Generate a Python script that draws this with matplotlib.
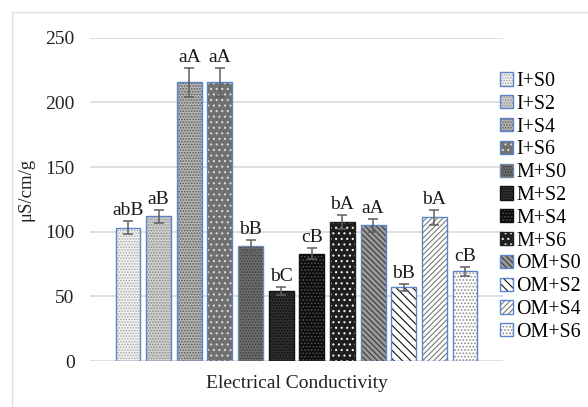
import numpy as np
import matplotlib.pyplot as plt
from matplotlib.patches import Patch, Rectangle

plt.rcParams['font.family'] = ['Liberation Serif', 'DejaVu Serif']
plt.rcParams['hatch.linewidth'] = 0.8

# podaci
labels = ['I+S0', 'I+S2', 'I+S4', 'I+S6', 'M+S0', 'M+S2', 'M+S4', 'M+S6',
          'OM+S0', 'OM+S2', 'OM+S4', 'OM+S6']
values = [103, 112, 215.5, 215.5, 89, 54, 83, 107.5, 105, 57, 111, 69.5]
errors = [5, 5, 11, 11, 4.5, 3, 4.5, 5.5, 5, 2.8, 6, 3.5]
letters = ['abB', 'aB', 'aA', 'aA', 'bB', 'bC', 'cB', 'bA', 'aA', 'bB', 'bA', 'cB']

blue = '#5b85c8'
# (boja pozadine, boja sare, sara, boja ivice)
styles = [
    ('#f2f2f2', '#a6a6a6', '......', blue),
    ('#d0d0d0', '#8c8c8c', '......', blue),
    ('#b5b5b5', '#5a5a5a', '......', blue),
    ('#707070', '#d9d9d9', '...', blue),
    ('#6e6e6e', '#3c3c3c', '......', '#6f86ad'),
    ('#303030', '#0a0a0a', '......', '#111111'),
    ('#0c0c0c', '#505050', '.....', '#111111'),
    ('#1e1e1e', '#f0f0f0', '...', '#222222'),
    ('#9a9a9a', '#3a3a3a', '\\\\\\\\\\\\', blue),
    ('#ffffff', '#111111', '\\\\\\\\', blue),
    ('#ffffff', '#7a7a7a', '//////', blue),
    ('#ffffff', '#8a8a8a', '.....', blue),
]

fig = plt.figure(figsize=(5.88, 4.07), dpi=100)
ax = fig.add_axes([90 / 588, 46 / 407, 413 / 588, 323.3 / 407])

x = np.arange(len(labels))
w = 0.815
handles = []
for i in range(len(labels)):
    fc, hc, h, ec = styles[i]
    ax.bar(x[i], values[i], w, color=fc, edgecolor=hc, hatch=h, linewidth=0, zorder=2)
    ax.bar(x[i], values[i], w, fill=False, edgecolor=ec, linewidth=1.0, zorder=3)
    p1 = Patch(facecolor=fc, edgecolor=hc, hatch=h, linewidth=0)
    p2 = Patch(fill=False, edgecolor=ec, linewidth=1.0)
    handles.append((p1, p2))

ax.errorbar(x, values, yerr=errors, fmt='none', ecolor='#5f5f5f', elinewidth=1.1,
            capsize=3.5, capthick=1.1, zorder=4)

for i in range(len(labels)):
    ax.text(x[i], values[i] + errors[i] + 1.5, letters[i], ha='center', va='bottom',
            fontsize=14, color='#1a1a1a')

ax.set_ylim(0, 250)
ax.set_xlim(-1.24, 12.24)
ax.set_yticks([0, 50, 100, 150, 200, 250])
ax.tick_params(axis='y', length=0, labelsize=14, pad=11, labelcolor='#222222')
ax.set_xticks([])
ax.grid(axis='y', color='#d9d9d9', linewidth=1.2, zorder=0)
ax.set_axisbelow(True)
for s in ax.spines.values():
    s.set_visible(False)

ax.set_ylabel('μS/cm/g', fontsize=13.5, labelpad=0, color='#222222')
ax.yaxis.set_label_coords(-0.135, 0.53)
ax.set_xlabel('Electrical Conductivity', fontsize=14, labelpad=10, color='#222222')

fig.legend(handles, labels, loc='upper left', bbox_to_anchor=(500 / 588, 1 - 72 / 407),
           frameon=False, fontsize=14.4, handlelength=0.65, handleheight=0.65,
           handletextpad=0.15, labelspacing=0.19, borderpad=0, borderaxespad=0)

# okvir grafika
fig.patches.append(Rectangle((12 / 588, -0.1), 1.2, 1 - 12 / 407 + 0.1,
                             transform=fig.transFigure, fill=False,
                             edgecolor='#e0e0e0', linewidth=1))

fig.savefig('out.png', dpi=100)
